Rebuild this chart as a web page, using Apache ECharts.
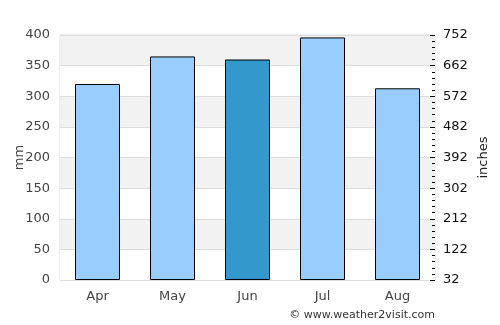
<!DOCTYPE html>
<html>
<head>
<meta charset="utf-8">
<script src="https://cdn.jsdelivr.net/npm/echarts@6/dist/echarts.min.js"></script>
<style>
  html, body { margin: 0; padding: 0; background: #fff; }
  #chart { width: 500px; height: 325px; }
</style>
</head>
<body>
<div id="chart"></div>
<script>
// monthly rainfall (mm)
const months = ['Apr', 'May', 'Jun', 'Jul', 'Aug'];
const rainfall = [320, 365, 360, 396, 313];
const highlightMonth = 'Jun';
// right axis labels run 32..752 (step 90); axis is drawn as 0..720 and offset by 32
const rightOffset = 32;

const chart = echarts.init(document.getElementById('chart'), null, { renderer: 'canvas' });

chart.setOption({
  backgroundColor: '#fff',
  animation: false,
  grid: {
    left: 60, right: 65, top: 35, bottom: 45,
    outerBoundsMode: 'none', containLabel: false,
    show: true, borderColor: '#ddd', borderWidth: 1
  },
  xAxis: {
    type: 'category',
    data: months,
    axisLine: { show: false },
    axisTick: { show: false },
    axisLabel: { color: '#444', fontSize: 13, margin: 10, fontFamily: 'DejaVu Sans' }
  },
  yAxis: [
    {
      type: 'value',
      min: 0, max: 400, interval: 50,
      name: 'mm', nameLocation: 'middle', nameGap: 34, nameRotate: 90,
      nameMoveOverlap: false,
      nameTextStyle: { color: '#444', fontSize: 13, fontFamily: 'DejaVu Sans' },
      axisLine: { show: false },
      axisTick: { show: false },
      axisLabel: { color: '#444', fontSize: 13, margin: 10, fontFamily: 'DejaVu Sans' },
      splitLine: { show: true, lineStyle: { color: '#ddd' } },
      splitArea: { show: true, areaStyle: { color: ['#fff', '#f2f2f2'] } }
    },
    {
      type: 'value',
      position: 'right',
      min: 0, max: 720, interval: 90,
      name: 'inches', nameLocation: 'middle', nameGap: 42, nameRotate: 90,
      nameMoveOverlap: false,
      nameTextStyle: { color: '#222', fontSize: 13, fontFamily: 'DejaVu Sans' },
      axisLine: { show: false },
      axisTick: { show: true, inside: true, length: 5, lineStyle: { color: '#000' } },
      minorTick: { show: true, splitNumber: 5, length: 3, lineStyle: { color: '#000' } },
      axisLabel: { color: '#111', fontSize: 13, margin: 8, fontFamily: 'DejaVu Sans',
        formatter: v => String(v + rightOffset) },
      splitLine: { show: false }
    }
  ],
  series: [{
    type: 'bar',
    barWidth: '60%',
    data: rainfall.map((v, i) => ({
      value: v,
      itemStyle: { color: months[i] === highlightMonth ? '#3399cc' : '#99ccff' }
    })),
    itemStyle: { borderColor: '#000', borderWidth: 1 }
  }],
  graphic: [{
    type: 'text',
    right: 65, bottom: 4,
    style: { text: '© www.weather2visit.com', fill: '#333', fontSize: 11, fontFamily: 'DejaVu Sans' }
  }]
});
</script>
</body>
</html>
